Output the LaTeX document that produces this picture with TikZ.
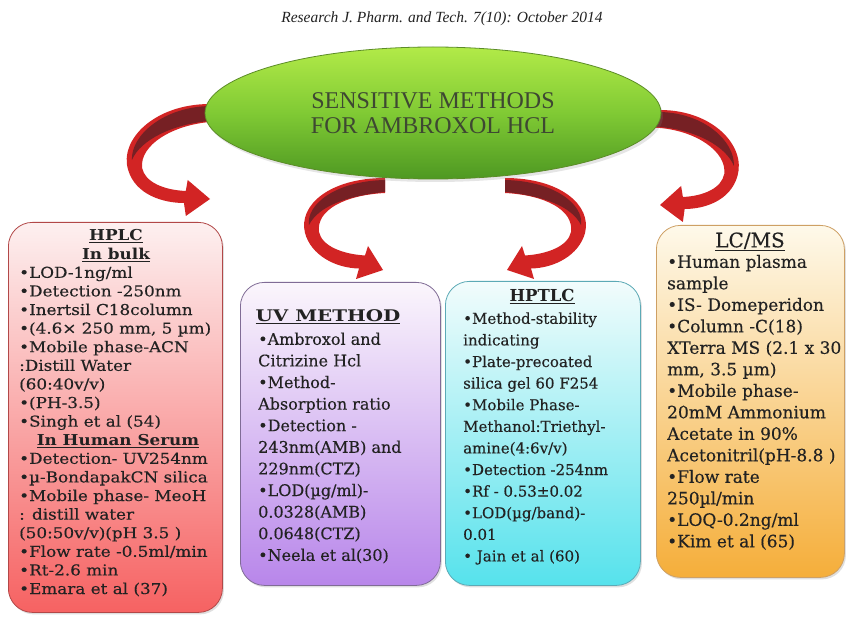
\documentclass[tikz,border=0pt]{standalone}
\usepackage{fontspec}
\setmainfont{DejaVu Serif}
\newfontfamily\journalfont{Liberation Serif}
\newfontfamily\titlefont{Liberation Serif}
\newfontfamily\bodyfont[FakeBold=0.3]{DejaVu Serif}
\newfontfamily\widefont[FakeStretch=1.12,FakeBold=0.3]{DejaVu Serif}
\newfontfamily\widehead[FakeStretch=1.12]{DejaVu Serif}
\newfontfamily\broadhead[FakeStretch=1.24]{DejaVu Serif}
\usetikzlibrary{shapes.geometric,shadows}

\definecolor{inkgray}{RGB}{34,34,34}
\definecolor{titleink}{RGB}{62,72,50}
\definecolor{leafTop}{RGB}{178,234,72}
\definecolor{leafMid}{RGB}{128,202,52}
\definecolor{leafBot}{RGB}{78,152,34}
\definecolor{leafLine}{RGB}{92,140,40}
\definecolor{ribbonred}{RGB}{210,36,36}
\definecolor{ribbondark}{RGB}{118,32,36}
\definecolor{hplcTop}{RGB}{253,240,240}
\definecolor{hplcBot}{RGB}{246,98,98}
\definecolor{hplcLine}{RGB}{178,72,72}
\definecolor{uvTop}{RGB}{251,246,252}
\definecolor{uvBot}{RGB}{184,134,234}
\definecolor{uvLine}{RGB}{128,108,150}
\definecolor{tlcTop}{RGB}{242,252,252}
\definecolor{tlcBot}{RGB}{86,226,236}
\definecolor{tlcLine}{RGB}{92,170,182}
\definecolor{msTop}{RGB}{254,249,234}
\definecolor{msBot}{RGB}{245,174,58}
\definecolor{msLine}{RGB}{206,160,100}

\tikzset{
  panel/.style={rectangle, rounded corners=24pt, anchor=north west, line width=0.8pt,
    drop shadow={opacity=0.25, shadow xshift=1.5pt, shadow yshift=-2pt}},
  head/.style={anchor=base, inner sep=0pt, text=inkgray},
  % multi-line lists are placed by the baseline of their last line
  items/.style={anchor=base west, align=left, inner sep=0pt, text=inkgray},
  % curled ribbon arrow leaving the oval sideways
  pics/ribbon side/.style={code={
    \fill[ribbonred] (8,0) -- (0,0) .. controls (-60,0) and (-98,36) .. (-88,66)
      .. controls (-80,91) and (-50,99) .. (-28,99) -- (-26,112) -- (0,95) -- (-24,76) -- (-26,87)
      .. controls (-50,86) and (-70,78) .. (-73,64) .. controls (-76,41) and (-40,21) .. (0,18)
      -- (8,18) -- cycle;
    \fill[ribbondark] (8,2) -- (0,2) .. controls (-50,3) and (-85,31) .. (-84,56)
      .. controls (-75,36) and (-40,20) .. (0,17) -- (8,17) -- cycle;
  }},
  % shorter ribbon arrow leaving the oval downwards
  pics/ribbon mid/.style={code={
    \fill[ribbonred] (0,0) .. controls (-55,0) and (-87,27) .. (-80,55)
      .. controls (-74,77) and (-50,90) .. (-26,90.5) -- (-29,101) -- (-2,92) -- (-17,68) -- (-20,77.5)
      .. controls (-43,76) and (-63,68) .. (-66,54) .. controls (-69,32) and (-40,17) .. (0,15) -- cycle;
    \fill[ribbondark] (0,2) .. controls (-50,3) and (-79,27) .. (-76,47)
      .. controls (-67,29) and (-40,18) .. (0,14) -- cycle;
  }},
}

\begin{document}
\begin{tikzpicture}[x=1pt,y=-1pt]
\fill[white] (0,0) rectangle (848,617);
\useasboundingbox (0,0) rectangle (848,617);

% running head
\node[font=\journalfont\itshape\fontsize{15.5}{18}\selectfont, text=inkgray] (journal) at (442,19)
  {Research J. Pharm. and Tech. 7(10): October 2014};

% method panels
\node[panel, top color=hplcTop, bottom color=hplcBot, draw=hplcLine,
  minimum width=214pt, minimum height=390pt] (hplc) at (8,222) {};
\node[panel, top color=uvTop, bottom color=uvBot, draw=uvLine,
  minimum width=200pt, minimum height=303pt] (uv) at (240,282) {};
\node[panel, top color=tlcTop, bottom color=tlcBot, draw=tlcLine,
  minimum width=195pt, minimum height=304pt] (tlc) at (445,281) {};
\node[panel, top color=msTop, bottom color=msBot, draw=msLine,
  minimum width=188pt, minimum height=352pt] (ms) at (656,225) {};

% HPLC panel text
\node[head, font=\widehead\bfseries\fontsize{15}{18.6}\selectfont] (hplcT) at (116,240.6) {\underline{HPLC}};
\node[head, font=\widehead\bfseries\fontsize{15}{18.6}\selectfont] (hplcB) at (116,259.2) {\underline{In bulk}};
\node[items, font=\widefont\fontsize{15}{18.6}\selectfont] (hplcL1) at (19,426.6)
  {•LOD-1ng/ml\\•Detection -250nm\\•Inertsil C18column\\•(4.6× 250 mm, 5 µm)\\•Mobile phase-ACN\\:Distill Water\\(60:40v/v)\\•(PH-3.5)\\•Singh et al (54)};
\node[head, font=\widehead\bfseries\fontsize{15}{18.6}\selectfont] (hplcS) at (118,445.2) {\underline{In Human Serum}};
\node[items, font=\widefont\fontsize{15}{18.6}\selectfont] (hplcL2) at (19,594)
  {•Detection- UV254nm\\•µ-BondapakCN silica\\•Mobile phase- MeoH\\: distill water\\(50:50v/v)(pH 3.5 )\\•Flow rate -0.5ml/min\\•Rt-2.6 min\\•Emara et al (37)};

% UV panel text
\node[head, font=\broadhead\bfseries\fontsize{16}{21.6}\selectfont] (uvT) at (328,321.8) {\underline{UV METHOD}};
\node[items, font=\bodyfont\fontsize{16}{21.6}\selectfont] (uvL) at (258,560.8)
  {•Ambroxol and\\Citrizine Hcl\\•Method-\\Absorption ratio\\•Detection -\\243nm(AMB) and\\229nm(CTZ)\\•LOD(µg/ml)-\\0.0328(AMB)\\0.0648(CTZ)\\•Neela et al(30)};

% HPTLC panel text
\node[head, font=\bfseries\fontsize{16.5}{21.6}\selectfont] (tlcT) at (542,301.8) {\underline{HPTLC}};
\node[items, font=\bodyfont\fontsize{15}{21.6}\selectfont] (tlcL) at (463,561.4)
  {•Method-stability\\indicating\\•Plate-precoated\\silica gel 60 F254\\•Mobile Phase-\\Methanol:Triethyl-\\amine(4:6v/v)\\•Detection -254nm\\•Rf - 0.53±0.02\\•LOD(µg/band)-\\0.01\\• Jain et al (60)};

% LC/MS panel text
\node[head, font=\bodyfont\fontsize{20}{24}\selectfont] (msT) at (750,247.3) {\underline{LC/MS}};
\node[items, font=\bodyfont\fontsize{17}{21.5}\selectfont] (msL) at (667,547.3)
  {•Human plasma\\sample\\•IS- Domeperidon\\•Column -C(18)\\XTerra MS (2.1 x 30\\mm, 3.5 µm)\\•Mobile phase-\\20mM Ammonium\\Acetate in 90\%\\Acetonitril(pH-8.8 )\\•Flow rate\\250µl/min\\•LOQ-0.2ng/ml\\•Kim et al (65)};

% ribbon arrows from the oval to the panels
\coordinate (ribL) at (210,104);
\coordinate (ribML) at (385,178);
\coordinate (ribMR) at (505,178);
\coordinate (ribR) at (660,110);
\pic[xscale=0.93] at (ribL) {ribbon side};
\pic at (ribML) {ribbon mid};
\pic[xscale=-1] at (ribMR) {ribbon mid};
\pic[xscale=-0.88] at (ribR) {ribbon side};

% central oval
\node[ellipse, minimum width=456pt, minimum height=132pt, inner sep=0pt,
  top color=leafTop, bottom color=leafBot, middle color=leafMid, draw=leafLine, line width=0.8pt,
  drop shadow={opacity=0.2, shadow xshift=2pt, shadow yshift=-3pt},
  align=center, text=titleink, font=\titlefont\fontsize{24}{25}\selectfont] (ell) at (433,113)
  {SENSITIVE METHODS\\FOR AMBROXOL HCL};
\end{tikzpicture}
\end{document}
